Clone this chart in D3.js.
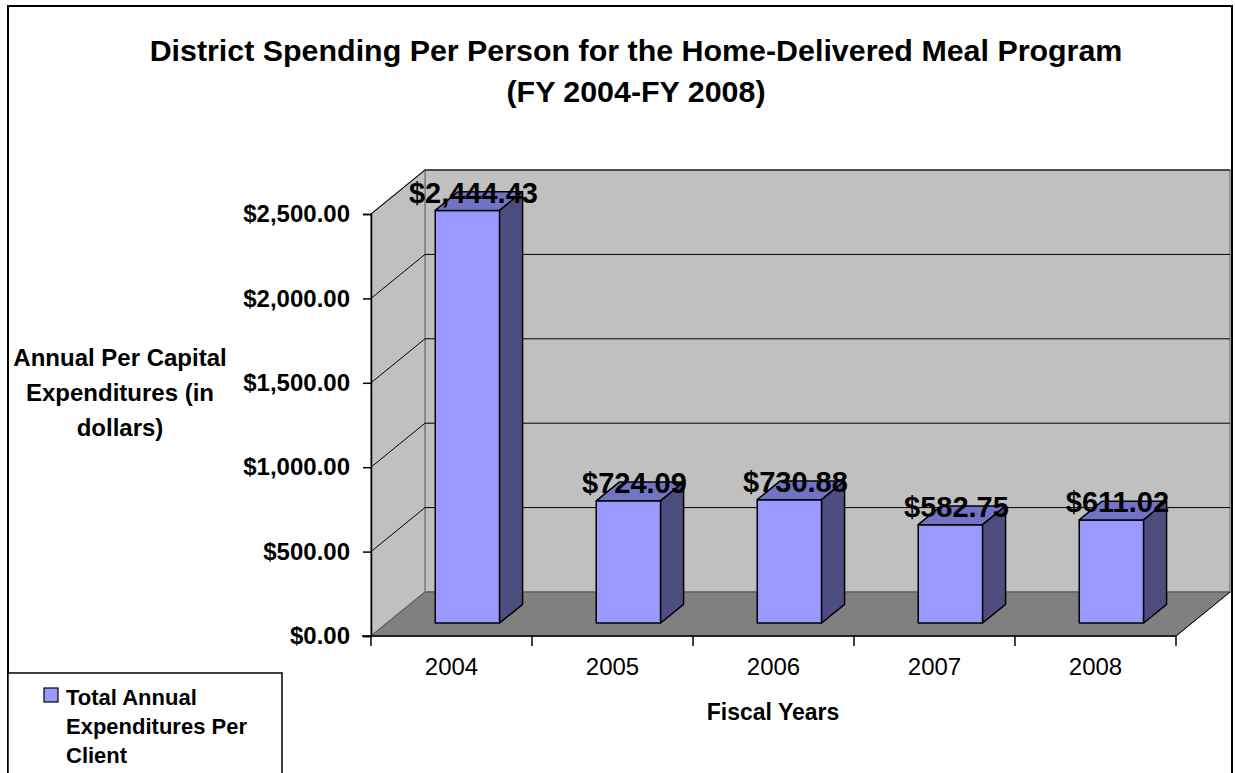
<!DOCTYPE html>
<html>
<head>
<meta charset="utf-8">
<script src="https://cdn.jsdelivr.net/npm/d3@7"></script>
<style>
  html, body { margin: 0; padding: 0; background: #fff; }
  svg { display: block; }
  text { font-family: "Liberation Sans", Arial, sans-serif; fill: #000; }
</style>
</head>
<body>
<svg id="chart" width="1235" height="773"></svg>
<script>
// Fiscal years and per-client spending
const years = ["2004", "2005", "2006", "2007", "2008"];
const spending = [2444.43, 724.09, 730.88, 582.75, 611.02];
const yTicks = [0, 500, 1000, 1500, 2000, 2500];
const titleLines = ["District Spending Per Person for the Home-Delivered Meal Program", "(FY 2004-FY 2008)"];
const yTitleLines = ["Annual Per Capital", "Expenditures (in", "dollars)"];
const xTitle = "Fiscal Years";
const legendLines = ["Total Annual", "Expenditures Per", "Client"];

const svg = d3.select("#chart");

// Front plane of the 3D box and the depth offset of its back plane
const plotLeft = 371, plotRight = 1176, plotBase = 636, plotTop = 214;
const depthX = 54, depthY = -44;

const x = d3.scaleBand().domain(years).range([plotLeft, plotRight]).paddingInner(0).paddingOuter(0);
const y = d3.scaleLinear().domain([0, 2500]).range([plotBase, plotTop]);

const fmt = v => "$" + d3.format(",.2f")(v);

// Outer frame
svg.append("rect").attr("x", 8).attr("y", 6).attr("width", 1224).attr("height", 800)
  .attr("fill", "none").attr("stroke", "#000").attr("stroke-width", 2);

// Title
svg.append("g").selectAll("text").data(titleLines).join("text")
  .attr("x", 636).attr("y", (d, i) => 61 + i * 41)
  .attr("text-anchor", "middle").attr("font-size", 30.4).attr("font-weight", "bold")
  .text(d => d);

// Back wall
svg.append("rect")
  .attr("x", plotLeft + depthX).attr("y", plotTop + depthY)
  .attr("width", plotRight - plotLeft).attr("height", plotBase - plotTop)
  .attr("fill", "#c0c0c0").attr("stroke", "#808080").attr("stroke-width", 1.5);

// Left side wall
svg.append("path")
  .attr("d", `M${plotLeft},${plotTop}L${plotLeft + depthX},${plotTop + depthY}L${plotLeft + depthX},${plotBase + depthY}L${plotLeft},${plotBase}Z`)
  .attr("fill", "#c0c0c0").attr("stroke", "#808080").attr("stroke-width", 1.5);

// Floor
svg.append("path")
  .attr("d", `M${plotLeft},${plotBase}L${plotRight},${plotBase}L${plotRight + depthX},${plotBase + depthY}L${plotLeft + depthX},${plotBase + depthY}Z`)
  .attr("fill", "#808080").attr("stroke", "#555").attr("stroke-width", 1);
svg.append("line")
  .attr("x1", plotRight).attr("y1", plotBase).attr("x2", plotRight + depthX).attr("y2", plotBase + depthY)
  .attr("stroke", "#000").attr("stroke-width", 1);

// Gridlines on the side wall and the back wall
const grid = svg.append("g").attr("stroke", "#000").attr("stroke-width", 1);
yTicks.filter(t => t > 0).forEach(t => {
  grid.append("line")
    .attr("x1", plotLeft).attr("y1", y(t)).attr("x2", plotLeft + depthX).attr("y2", y(t) + depthY);
  grid.append("line")
    .attr("x1", plotLeft + depthX).attr("y1", y(t) + depthY).attr("x2", plotRight + depthX).attr("y2", y(t) + depthY);
});

// Value axis on the front plane
const yAxis = svg.append("g").attr("transform", `translate(${plotLeft},0)`)
  .call(d3.axisLeft(y).tickValues(yTicks).tickFormat(fmt).tickSize(8).tickPadding(13));
yAxis.select(".domain").attr("stroke", "#000").attr("stroke-width", 1.5);
yAxis.selectAll(".tick line").attr("stroke", "#000").attr("stroke-width", 1.5);
yAxis.selectAll(".tick text").attr("font-size", 24).attr("font-weight", "bold")
  .attr("font-family", "Liberation Sans, Arial, sans-serif").attr("fill", "#000");

// Category axis on the front edge of the floor
const xAxis = svg.append("g").attr("transform", `translate(0,${plotBase})`)
  .call(d3.axisBottom(x).tickSize(0).tickPadding(22));
xAxis.select(".domain").remove();
xAxis.append("line").attr("x1", plotLeft - 9).attr("x2", plotRight).attr("y1", 0).attr("y2", 0)
  .attr("stroke", "#000").attr("stroke-width", 1.5);
xAxis.selectAll(".sep").data(years.concat(["end"])).join("line")
  .attr("x1", (d, i) => plotLeft + i * x.bandwidth()).attr("x2", (d, i) => plotLeft + i * x.bandwidth())
  .attr("y1", 0).attr("y2", 10).attr("stroke", "#000").attr("stroke-width", 1.5);
xAxis.selectAll(".tick text").attr("font-size", 24)
  .attr("font-family", "Liberation Sans, Arial, sans-serif").attr("fill", "#000");

// 3D columns
const z0 = 0.295, z1 = 0.72, barFrac = 0.4;
const bars = svg.append("g");
years.forEach((yr, i) => {
  const v = spending[i];
  const w = x.bandwidth() * barFrac;
  const fx = x(yr) + (x.bandwidth() - w) / 2 + depthX * z0;
  const fyB = y(0) + depthY * z0;
  const fyT = y(v) + depthY * z0;
  const ddx = depthX * (z1 - z0), ddy = depthY * (z1 - z0);
  const g = bars.append("g").attr("stroke", "#000").attr("stroke-width", 1.5).attr("stroke-linejoin", "round");
  g.append("rect").attr("x", fx).attr("y", fyT).attr("width", w).attr("height", fyB - fyT).attr("fill", "#9999ff");
  g.append("path")
    .attr("d", `M${fx},${fyT}L${fx + ddx},${fyT + ddy}L${fx + w + ddx},${fyT + ddy}L${fx + w},${fyT}Z`)
    .attr("fill", "#7373c6");
  g.append("path")
    .attr("d", `M${fx + w},${fyT}L${fx + w + ddx},${fyT + ddy}L${fx + w + ddx},${fyB + ddy}L${fx + w},${fyB}Z`)
    .attr("fill", "#4d4d80");
  // value label
  svg.append("text")
    .attr("x", fx + w / 2 + 6).attr("y", fyT - 7.5)
    .attr("text-anchor", "middle").attr("font-size", 29).attr("font-weight", "bold")
    .text(fmt(v));
});

// Axis titles
svg.append("g").selectAll("text").data(yTitleLines).join("text")
  .attr("x", 120).attr("y", (d, i) => 366 + i * 35)
  .attr("text-anchor", "middle").attr("font-size", 24).attr("font-weight", "bold")
  .text(d => d);
svg.append("text").attr("x", 773).attr("y", 720)
  .attr("text-anchor", "middle").attr("font-size", 23).attr("font-weight", "bold")
  .text(xTitle);

// Legend
const lg = svg.append("g");
lg.append("rect").attr("x", 8).attr("y", 673).attr("width", 274).attr("height", 200)
  .attr("fill", "#fff").attr("stroke", "#000").attr("stroke-width", 1.5);
lg.append("rect").attr("x", 44).attr("y", 688).attr("width", 14).attr("height", 14)
  .attr("fill", "#9999ff").attr("stroke", "#000").attr("stroke-width", 1.2);
lg.selectAll(".lt").data(legendLines).join("text")
  .attr("x", 66).attr("y", (d, i) => 705 + i * 29)
  .attr("font-size", 22).attr("font-weight", "bold")
  .text(d => d);
</script>
</body>
</html>
